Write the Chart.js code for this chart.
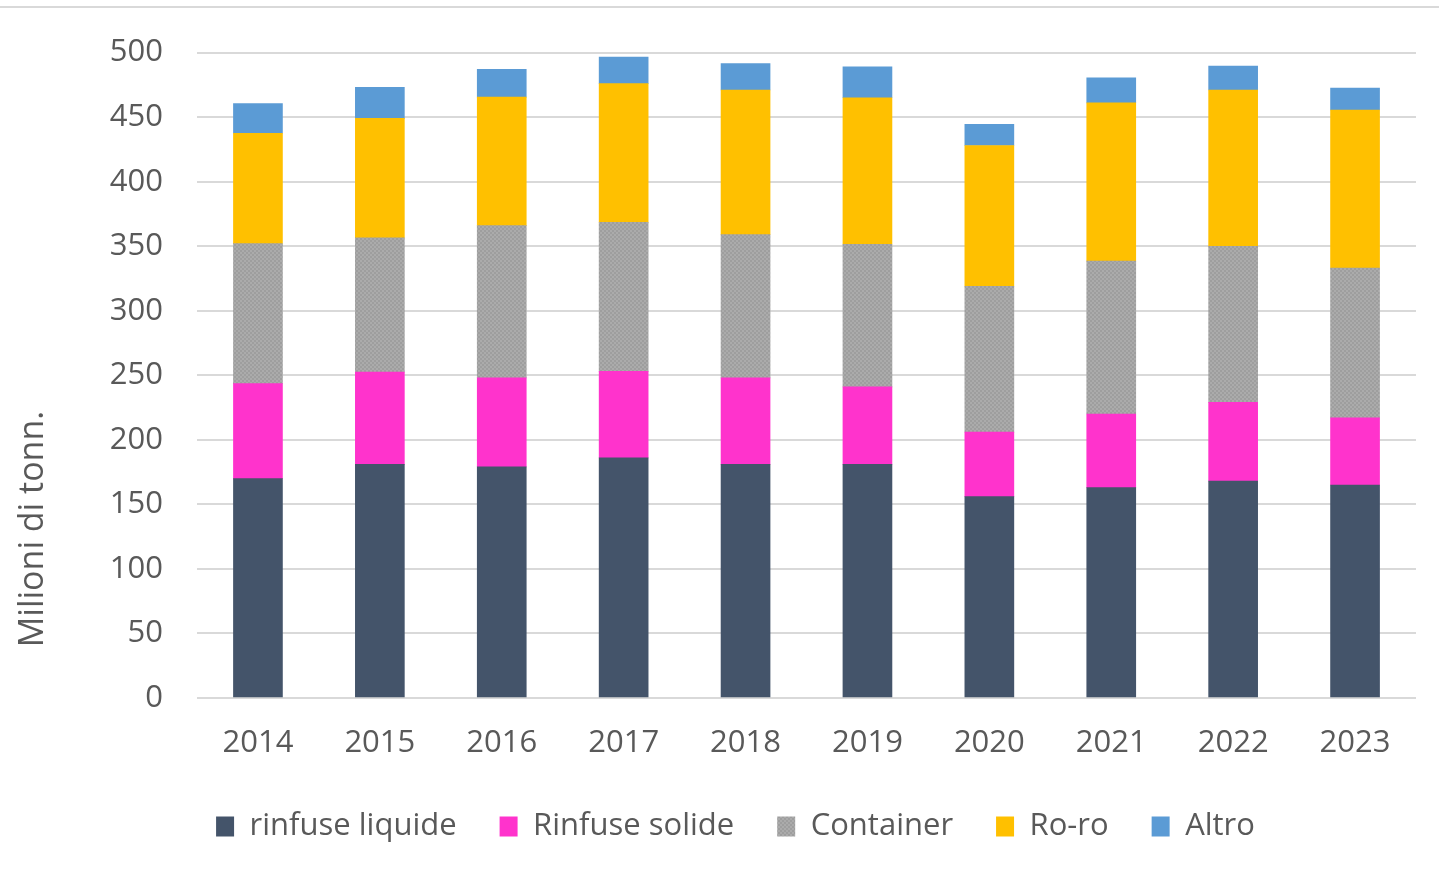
<!DOCTYPE html>
<html>
<head>
<meta charset="utf-8">
<script src="https://cdn.jsdelivr.net/npm/chart.js@4"></script>
<style>
  html, body { margin: 0; padding: 0; background: #ffffff; }
  #wrap { width: 1439px; height: 876px; position: relative; }
</style>
</head>
<body>
<div id="wrap"><canvas id="c" width="1439" height="876"></canvas></div>
<script>
const categories = ['2014', '2015', '2016', '2017', '2018', '2019', '2020', '2021', '2022', '2023'];
const rinfuseLiquide = [170, 181, 179, 186, 181, 181, 156, 163, 168, 165];
const rinfuseSolide = [73.5, 71.5, 69, 67, 67, 60, 50, 57, 61, 52];
const container = [108.5, 104, 118, 115.5, 111, 110.5, 113, 118.5, 121, 116];
const roro = [85.5, 92.5, 99.5, 107.5, 112, 113.5, 109, 122.5, 121, 122.5];
const altro = [23, 24, 21.5, 20.5, 20.5, 24, 16.5, 19.5, 18.5, 17];
const seriesNames = ['rinfuse liquide', 'Rinfuse solide', 'Container', 'Ro-ro', 'Altro'];
const yTicks = [0, 50, 100, 150, 200, 250, 300, 350, 400, 450, 500];
const yTitle = 'Milioni di tonn.';

const FONT = "'Open Sans', 'DejaVu Sans', sans-serif";
const TXT = '#595959';

// checkered gray pattern for Container
const pc = document.createElement('canvas');
pc.width = 4; pc.height = 4;
const pctx = pc.getContext('2d');
pctx.fillStyle = '#9e9e9e'; pctx.fillRect(0, 0, 4, 4);
pctx.fillStyle = '#ababab'; pctx.fillRect(0, 0, 2, 2); pctx.fillRect(2, 2, 2, 2);
const grayPattern = pctx.createPattern(pc, 'repeat');

const frame = {
  id: 'frame',
  beforeDraw(chart) {
    const ctx = chart.ctx;
    ctx.save();
    ctx.fillStyle = '#ffffff';
    ctx.fillRect(0, 0, chart.width, chart.height);
    ctx.fillStyle = '#d9d9d9';
    ctx.fillRect(0, 6, chart.width, 2);
    ctx.restore();
  },
  afterDraw(chart) {
    const ctx = chart.ctx;
    ctx.save();
    ctx.translate(33, 529);
    ctx.rotate(-Math.PI / 2);
    ctx.font = '34px ' + FONT;
    ctx.fillStyle = TXT;
    ctx.textAlign = 'center';
    ctx.textBaseline = 'middle';
    ctx.fillText(yTitle, 0, 0);
    ctx.restore();
  }
};

new Chart(document.getElementById('c'), {
  type: 'bar',
  data: {
    labels: categories,
    datasets: [
      { label: seriesNames[0], data: rinfuseLiquide, backgroundColor: '#44546a' },
      { label: seriesNames[1], data: rinfuseSolide, backgroundColor: '#ff33cc' },
      { label: seriesNames[2], data: container, backgroundColor: grayPattern },
      { label: seriesNames[3], data: roro, backgroundColor: '#ffc000' },
      { label: seriesNames[4], data: altro, backgroundColor: '#5b9bd5' }
    ]
  },
  options: {
    responsive: false,
    animation: false,
    layout: { padding: { left: 55, right: 23, top: 48, bottom: 24 } },
    datasets: { bar: { barThickness: 49, borderWidth: 0 } },
    scales: {
      x: {
        stacked: true,
        grid: { display: false, drawTicks: false },
        border: { display: false },
        ticks: { color: TXT, font: { family: FONT, size: 31 }, padding: 27, maxRotation: 0 },
        afterFit(scale) { scale.height = 70; }
      },
      y: {
        stacked: true,
        min: 0, max: 500,
        afterBuildTicks(scale) { scale.ticks = yTicks.map(v => ({ value: v })); },
        grid: { color: '#d9d9d9', lineWidth: 2, drawTicks: false },
        border: { display: false },
        ticks: { color: TXT, font: { family: FONT, size: 31 }, padding: 34 },
        afterFit(scale) { scale.width = 142; }
      }
    },
    plugins: {
      tooltip: { enabled: false },
      legend: {
        position: 'bottom',
        labels: {
          color: TXT,
          font: { family: FONT, size: 31 },
          boxWidth: 18,
          boxHeight: 20,
          padding: 43
        }
      }
    }
  },
  plugins: [frame]
});
</script>
</body>
</html>
